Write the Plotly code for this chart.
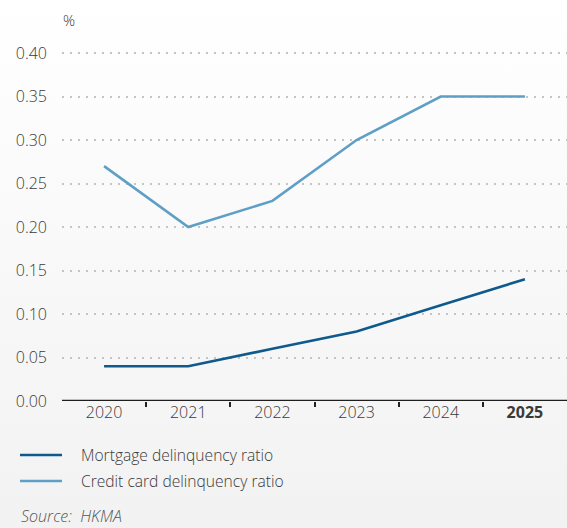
import base64
import plotly.graph_objects as go

# Year-end delinquency ratios (%)
years = [2020, 2021, 2022, 2023, 2024, 2025]
year_labels = ["2020", "2021", "2022", "2023", "2024", "<b>2025</b>"]
mortgage = [0.04, 0.04, 0.06, 0.08, 0.11, 0.14]
credit_card = [0.27, 0.20, 0.23, 0.30, 0.35, 0.35]
y_ticks = [0.0, 0.05, 0.10, 0.15, 0.20, 0.25, 0.30, 0.35, 0.40]
series_names = ["Mortgage delinquency ratio", "Credit card delinquency ratio"]
series_colors = ["#0f5a8c", "#5f9fc6"]

W, H = 567, 528
ML, MR, MT, MB = 62, 0, 40, 127
PW, PH = W - ML - MR, H - MT - MB

FONT = "Open Sans"
WEIGHT = 300
TXT = "#3a3a3a"

fig = go.Figure()
for name, vals, col in zip(series_names, [mortgage, credit_card], series_colors):
    fig.add_trace(go.Scatter(
        x=years, y=vals, mode="lines", name=name,
        line=dict(color=col, width=2.6), showlegend=False,
    ))

# soft vertical background gradient
svg = (
    f'<svg xmlns="http://www.w3.org/2000/svg" width="{W}" height="{H}">'
    '<defs><linearGradient id="g" x1="0" y1="0" x2="0" y2="1">'
    '<stop offset="0" stop-color="#ffffff"/><stop offset="1" stop-color="#f2f2f2"/>'
    '</linearGradient></defs>'
    f'<rect width="{W}" height="{H}" fill="url(#g)"/></svg>'
)
src = "data:image/svg+xml;base64," + base64.b64encode(svg.encode()).decode()
fig.add_layout_image(dict(
    source=src, xref="paper", yref="paper",
    x=-ML / PW, y=1 + MT / PH, sizex=W / PW, sizey=H / PH,
    sizing="stretch", xanchor="left", yanchor="top", layer="below",
))

def px_x(p):
    return (p - ML) / PW

def px_y(p):
    return 1 - (p - MT) / PH

# manual legend
for i, (name, col) in enumerate(zip(series_names, series_colors)):
    yy = px_y(455 + 26 * i)
    fig.add_shape(type="line", xref="paper", yref="paper",
                  x0=px_x(20), x1=px_x(62), y0=yy, y1=yy,
                  line=dict(color=col, width=2.6))
    fig.add_annotation(xref="paper", yref="paper", x=px_x(79), y=yy,
                       text=name, showarrow=False, xanchor="left", yanchor="middle",
                       font=dict(family=FONT, size=15.6, color=TXT, weight=WEIGHT))

fig.add_annotation(xref="paper", yref="paper", x=px_x(19), y=px_y(516),
                   text="<i>Source:  HKMA</i>", showarrow=False,
                   xanchor="left", yanchor="middle",
                   font=dict(family=FONT, size=16, color="#555555", weight=WEIGHT))
fig.add_annotation(xref="paper", yref="paper", x=px_x(61), y=px_y(20),
                   text="%", showarrow=False, xanchor="left", yanchor="middle",
                   font=dict(family=FONT, size=15, color=TXT, weight=WEIGHT))

ymax = 0.40 * PH / (401 - 53)
fig.update_layout(
    width=W, height=H,
    margin=dict(l=ML, r=MR, t=MT, b=MB),
    paper_bgcolor="#ffffff", plot_bgcolor="rgba(0,0,0,0)",
    font=dict(family=FONT, size=16, color=TXT, weight=WEIGHT),
    xaxis=dict(
        range=[2019.5, 2025.5], tickmode="array", tickvals=years, ticktext=year_labels,
        showgrid=False, zeroline=False, showline=False, ticks="",
        tickfont=dict(size=16, color=TXT, weight=WEIGHT),
        minor=dict(tickmode="array", tickvals=[y + 0.5 for y in years[:-1]],
                   ticks="outside", ticklen=5, tickcolor="#222222", tickwidth=1.5),
        fixedrange=True,
    ),
    yaxis=dict(
        range=[0, ymax], tickmode="array", tickvals=y_ticks, tickformat=".2f",
        showgrid=True, gridcolor="#c4c4c4", gridwidth=2, griddash="2px,6px",
        zeroline=False, showline=False, ticks="", ticklabelstandoff=14,
        tickfont=dict(size=16, color=TXT, weight=WEIGHT),
    ),
)
# x axis baseline
fig.add_shape(type="line", xref="paper", yref="y", x0=0, x1=1, y0=0, y1=0,
              line=dict(color="#1e1e1e", width=2.5), layer="above")

fig.write_html("out.html")
